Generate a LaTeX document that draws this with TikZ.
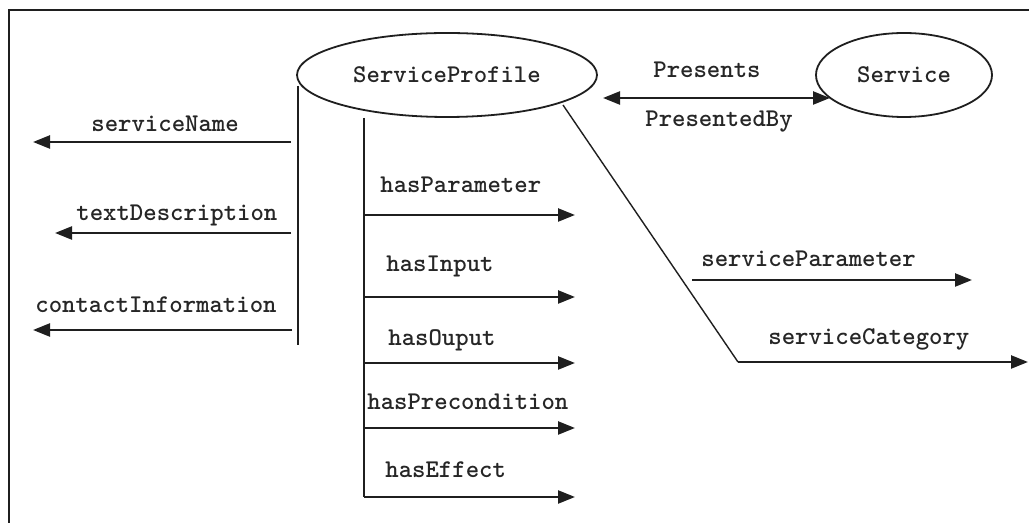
\documentclass[tikz,border=0pt]{standalone}
\usepackage{fontspec}
\usetikzlibrary{arrows.meta,shapes.geometric}
\begin{document}
\begin{tikzpicture}[x=0.5pt,y=-0.5pt,
  ink/.style={draw=black!88},
  frameline/.style={ink,line width=1pt},
  trunk/.style={ink,line width=1.2pt},
  thin/.style={ink,line width=0.7pt},
  rel/.style={ink,line width=1.2pt,-{Triangle[length=8.5pt,width=6.5pt]}},
  birel/.style={ink,line width=1.2pt,{Triangle[length=8.5pt,width=6.5pt]}-{Triangle[length=8.5pt,width=6.5pt]}},
  txt/.style={font=\ttfamily\bfseries\fontsize{12.76pt}{15pt}\selectfont,text=black!85},
  lbl/.style={txt,inner sep=0pt,anchor=base west},
  oval/.style={ellipse,ink,line width=0.9pt,txt,inner sep=0pt}]
\useasboundingbox[fill=white] (0,0) rectangle (1029,523);

% outer frame
\draw[frameline] (9,523) -- (9,10) -- (1029,10);

% classes
\node[oval,minimum width=150pt,minimum height=42pt] (sp) at (447,75) {ServiceProfile};
\node[oval,minimum width=88pt,minimum height=42pt] (svc) at (904,75) {Service};

% Presents / PresentedBy
\coordinate (pl) at (603,98);
\coordinate (pr) at (830,98);
\draw[birel] (pl) -- (pr);
\node[lbl] (presents) at (653,78) {Presents};
\node[lbl] (presentedby) at (645,127) {PresentedBy};

% left trunk and its properties
\coordinate (lt1) at (298,86);
\coordinate (lt2) at (298,345);
\draw[trunk] (lt1) -- (lt2);
\coordinate (sn1) at (291,142); \coordinate (sn2) at (33,142);
\coordinate (td1) at (291,233); \coordinate (td2) at (55,233);
\coordinate (ci1) at (292,330); \coordinate (ci2) at (33,330);
\draw[rel] (sn1) -- (sn2);
\draw[rel] (td1) -- (td2);
\draw[rel] (ci1) -- (ci2);
\node[lbl] (servicename) at (91,132) {serviceName};
\node[lbl] (textdesc) at (76,221) {textDescription};
\node[lbl] (contactinfo) at (35,313) {contactInformation};

% middle trunk and its properties
\coordinate (mt1) at (364,118);
\coordinate (mt2) at (364,497);
\draw[trunk] (mt1) -- (mt2);
\coordinate (hp1) at (364,215); \coordinate (hp2) at (575,215);
\coordinate (hi1) at (364,297); \coordinate (hi2) at (575,297);
\coordinate (ho1) at (364,363); \coordinate (ho2) at (575,363);
\coordinate (hc1) at (364,428); \coordinate (hc2) at (575,428);
\coordinate (he1) at (364,497); \coordinate (he2) at (575,497);
\draw[rel] (hp1) -- (hp2);
\draw[rel] (hi1) -- (hi2);
\draw[rel] (ho1) -- (ho2);
\draw[rel] (hc1) -- (hc2);
\draw[rel] (he1) -- (he2);
\node[lbl] (hasparam) at (380,193) {hasParameter};
\node[lbl] (hasinput) at (386,272) {hasInput};
\node[lbl] (hasouput) at (388,346) {hasOuput};
\node[lbl] (hasprec) at (367,410) {hasPrecondition};
\node[lbl] (haseffect) at (385,478) {hasEffect};

% diagonal branch on the right
\coordinate (dg1) at (563,105);
\coordinate (dg2) at (738,362);
\coordinate (sc2) at (1028,362);
\draw[thin] (dg1) -- (dg2);
\draw[rel] (dg2) -- (sc2);
\coordinate (spm1) at (692,280);
\coordinate (spm2) at (972,280);
\draw[rel] (spm1) -- (spm2);
\node[lbl] (serviceparam) at (701,267) {serviceParameter};
\node[lbl] (servicecat) at (768,345) {serviceCategory};
\end{tikzpicture}
\end{document}
